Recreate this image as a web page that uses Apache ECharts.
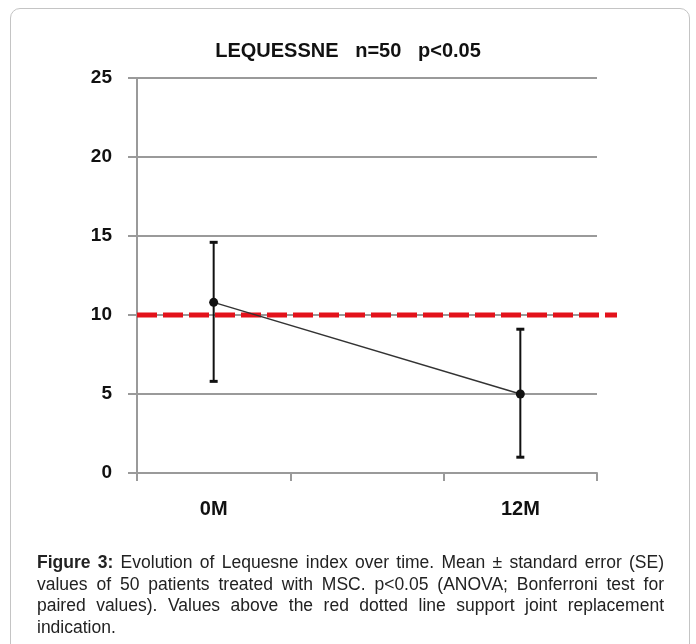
<!DOCTYPE html>
<html>
<head>
<meta charset="UTF-8">
<title>Lequesne</title>
<script src="https://cdn.jsdelivr.net/npm/echarts@6/dist/echarts.min.js"></script>
<style>
  body { margin: 0; background: #fff; }
  #frame { position: absolute; left: 10px; top: 8px; width: 678px; height: 680px;
           border: 1.5px solid #c4c4c4; border-radius: 10px; }
  #main { position: absolute; left: 0; top: 0; width: 696px; height: 644px; }
  #caption { position: absolute; left: 37px; top: 552px; width: 627px;
             font-family: 'Liberation Sans', Arial, sans-serif;
             font-size: 17.5px; line-height: 21.7px; color: #222; }
  #caption div { text-align: justify; text-align-last: justify; white-space: nowrap; }
  #caption div.last { text-align-last: left; }
</style>
</head>
<body>
<div id="frame"></div>
<div id="main"></div>
<div id="caption">
  <div><b>Figure 3:</b> Evolution of Lequesne index over time. Mean ± standard error (SE)</div>
  <div>values of 50 patients treated with MSC. p&lt;0.05 (ANOVA; Bonferroni test for</div>
  <div>paired values). Values above the red dotted line support joint replacement</div>
  <div class="last">indication.</div>
</div>

<script type="text/javascript">
// data
var months = ['0M', '', '12M'];
var meanValues = [10.8, null, 5.0];
var errLow = [5.8, null, 1.0];
var errHigh = [14.6, null, 9.1];
var threshold = 10;
var yTicks = [0, 5, 10, 15, 20, 25];

var gridLeft = 137, gridRight = 99, gridTop = 78, gridBottom = 171;

var errData = [];
for (var i = 0; i < months.length; i++) {
    if (meanValues[i] != null) errData.push([i, errLow[i], errHigh[i]]);
}

function renderErr(params, api) {
    var lo = api.coord([api.value(0), api.value(1)]);
    var hi = api.coord([api.value(0), api.value(2)]);
    var w = 4;
    return {
        type: 'group',
        children: [
            { type: 'line', shape: { x1: lo[0], y1: lo[1], x2: hi[0], y2: hi[1] },
              style: { stroke: '#111', lineWidth: 2 } },
            { type: 'line', shape: { x1: lo[0] - w, y1: lo[1], x2: lo[0] + w, y2: lo[1] },
              style: { stroke: '#111', lineWidth: 3 } },
            { type: 'line', shape: { x1: hi[0] - w, y1: hi[1], x2: hi[0] + w, y2: hi[1] },
              style: { stroke: '#111', lineWidth: 3 } }
        ]
    };
}

var myChart = echarts.init(document.getElementById('main'));
var option = {
    animation: false,
    title: {
        text: 'LEQUESSNE   n=50   p<0.05',
        left: 343, top: 36, textAlign: 'center',
        textStyle: { fontFamily: 'Liberation Sans', fontWeight: 'bold', fontSize: 20, color: '#111' }
    },
    grid: [
        { left: gridLeft, right: gridRight, top: gridTop, bottom: gridBottom },
        // the red threshold line runs a little past the plot area
        { left: gridLeft, right: gridRight - 20, top: gridTop, bottom: gridBottom }
    ],
    xAxis: [{
        type: 'category',
        data: months,
        boundaryGap: true,
        axisLine: { lineStyle: { color: '#9a9a9a', width: 2 } },
        axisTick: { show: true, length: 8, lineStyle: { color: '#9a9a9a', width: 2 } },
        axisLabel: { margin: 26, fontFamily: 'Liberation Sans', fontWeight: 'bold', fontSize: 20, color: '#111' },
        splitLine: { show: false }
    }, {
        type: 'value', gridIndex: 1, min: 0, max: 1, show: false
    }],
    yAxis: [{
        type: 'value',
        min: yTicks[0],
        max: yTicks[yTicks.length - 1],
        interval: 5,
        axisLine: { show: true, lineStyle: { color: '#9a9a9a', width: 2 } },
        axisTick: { show: true, length: 9, lineStyle: { color: '#9a9a9a', width: 2 } },
        axisLabel: { margin: 25, fontFamily: 'Liberation Sans', fontWeight: 'bold', fontSize: 19, color: '#111' },
        splitLine: { lineStyle: { color: '#9a9a9a', width: 2 } }
    }, {
        type: 'value', gridIndex: 1, min: yTicks[0], max: yTicks[yTicks.length - 1], show: false
    }],
    series: [
        {
            type: 'line',
            xAxisIndex: 1, yAxisIndex: 1,
            data: [[0, threshold], [1, threshold]],
            symbol: 'none',
            silent: true,
            lineStyle: { color: '#e3121b', width: 5, type: [20, 6] },
            z: 2
        },
        {
            type: 'custom',
            renderItem: renderErr,
            data: errData,
            z: 3
        },
        {
            type: 'line',
            data: meanValues,
            connectNulls: true,
            symbol: 'circle',
            symbolSize: 9,
            itemStyle: { color: '#111' },
            lineStyle: { color: '#333', width: 1.5 },
            z: 4
        }
    ]
};
myChart.setOption(option);
</script>
</body>
</html>
